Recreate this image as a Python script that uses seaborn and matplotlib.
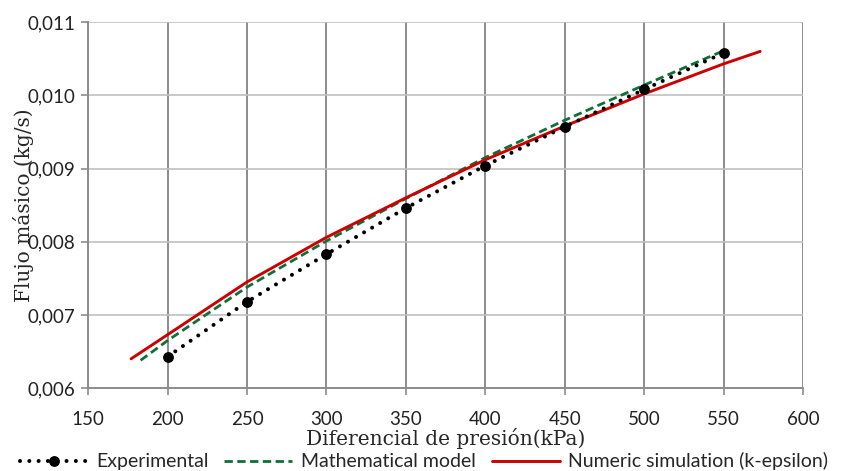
import pandas as pd
import numpy as np
import seaborn as sns
from matplotlib import pyplot as plt

# experimental points
exp_dp = [200, 250, 300, 350, 400, 450, 500, 550]
exp_flow = [0.00643, 0.00718, 0.00783, 0.00846, 0.00904, 0.00957, 0.01008, 0.01058]

# mathematical model
mod_dp = [183, 200, 250, 300, 350, 400, 450, 500, 550]
mod_flow = [0.00638, 0.00665, 0.00738, 0.00801, 0.00859, 0.00915, 0.00966, 0.01014, 0.01061]

# numeric simulation k-epsilon
sim_dp = [177, 200, 250, 300, 350, 400, 450, 500, 550, 573]
sim_flow = [0.00640, 0.00673, 0.00745, 0.00806, 0.00860, 0.00912, 0.00958, 0.01002, 0.01043, 0.01060]

x_ticks = [150, 200, 250, 300, 350, 400, 450, 500, 550, 600]
y_ticks = [0.006, 0.007, 0.008, 0.009, 0.010, 0.011]

sns.set_style("white")
plt.rcParams['font.family'] = ['Lato', 'DejaVu Sans']

fig, ax = plt.subplots(figsize=(8.48, 4.71), dpi=100)
fig.subplots_adjust(left=0.104, right=0.947, top=0.953, bottom=0.176)

df_exp = pd.DataFrame({'dp': exp_dp, 'flow': exp_flow})
df_mod = pd.DataFrame({'dp': mod_dp, 'flow': mod_flow})
df_sim = pd.DataFrame({'dp': sim_dp, 'flow': sim_flow})

sns.lineplot(data=df_mod, x='dp', y='flow', ax=ax, color='#0e7037', lw=2.0,
             linestyle=(0, (3.0, 1.6)), label='Mathematical model', zorder=3)
sns.lineplot(data=df_sim, x='dp', y='flow', ax=ax, color='#cc0000', lw=2.1,
             label='Numeric simulation (k-epsilon)', zorder=4)
sns.lineplot(data=df_exp, x='dp', y='flow', ax=ax, color='black', lw=2.9,
             linestyle=(0, (0.01, 2.3)), dash_capstyle='round',
             marker='o', markersize=7.8,
             markeredgewidth=0, label='Experimental', zorder=5)

ax.set_xlim(150, 600)
ax.set_ylim(0.006, 0.011)
ax.set_xticks(x_ticks)
ax.set_yticks(y_ticks)
ax.set_yticklabels(['{:.3f}'.format(v).replace('.', ',') for v in y_ticks])
ax.tick_params(axis='both', labelsize=13.5, colors='#222222', length=5,
               direction='out', width=1.2)
ax.tick_params(axis='x', pad=11.5)
ax.tick_params(axis='y', pad=4)
ax.tick_params(axis='both', color='#8c8c8c')
ax.xaxis.set_ticks_position('bottom')
ax.yaxis.set_ticks_position('left')

ax.grid(axis='x', color='#8c8c8c', lw=1.4)
ax.grid(axis='y', color='#c0c0c0', lw=1.2)
ax.set_axisbelow(True)
for s in ['top', 'right']:
    ax.spines[s].set_visible(False)
for s in ['left', 'bottom']:
    ax.spines[s].set_color('#8c8c8c')
    ax.spines[s].set_linewidth(1.4)

ax.set_xlabel('Diferencial de presión(kPa)', fontsize=14.5,
              family=['DejaVu Serif'], labelpad=0)
ax.set_ylabel('Flujo másico (kg/s)', fontsize=14.5, family=['DejaVu Serif'])
ax.yaxis.set_label_coords(-0.076, 0.5)

handles, labels = ax.get_legend_handles_labels()
order = [2, 0, 1]
ax.get_legend().remove()
fig.legend([handles[i] for i in order], [labels[i] for i in order],
           loc='lower center', ncol=3, frameon=False, fontsize=14,
           handlelength=3.5, columnspacing=0.8, handletextpad=0.45,
           bbox_to_anchor=(0.5, -0.036))

plt.savefig('out.png', dpi=100)
